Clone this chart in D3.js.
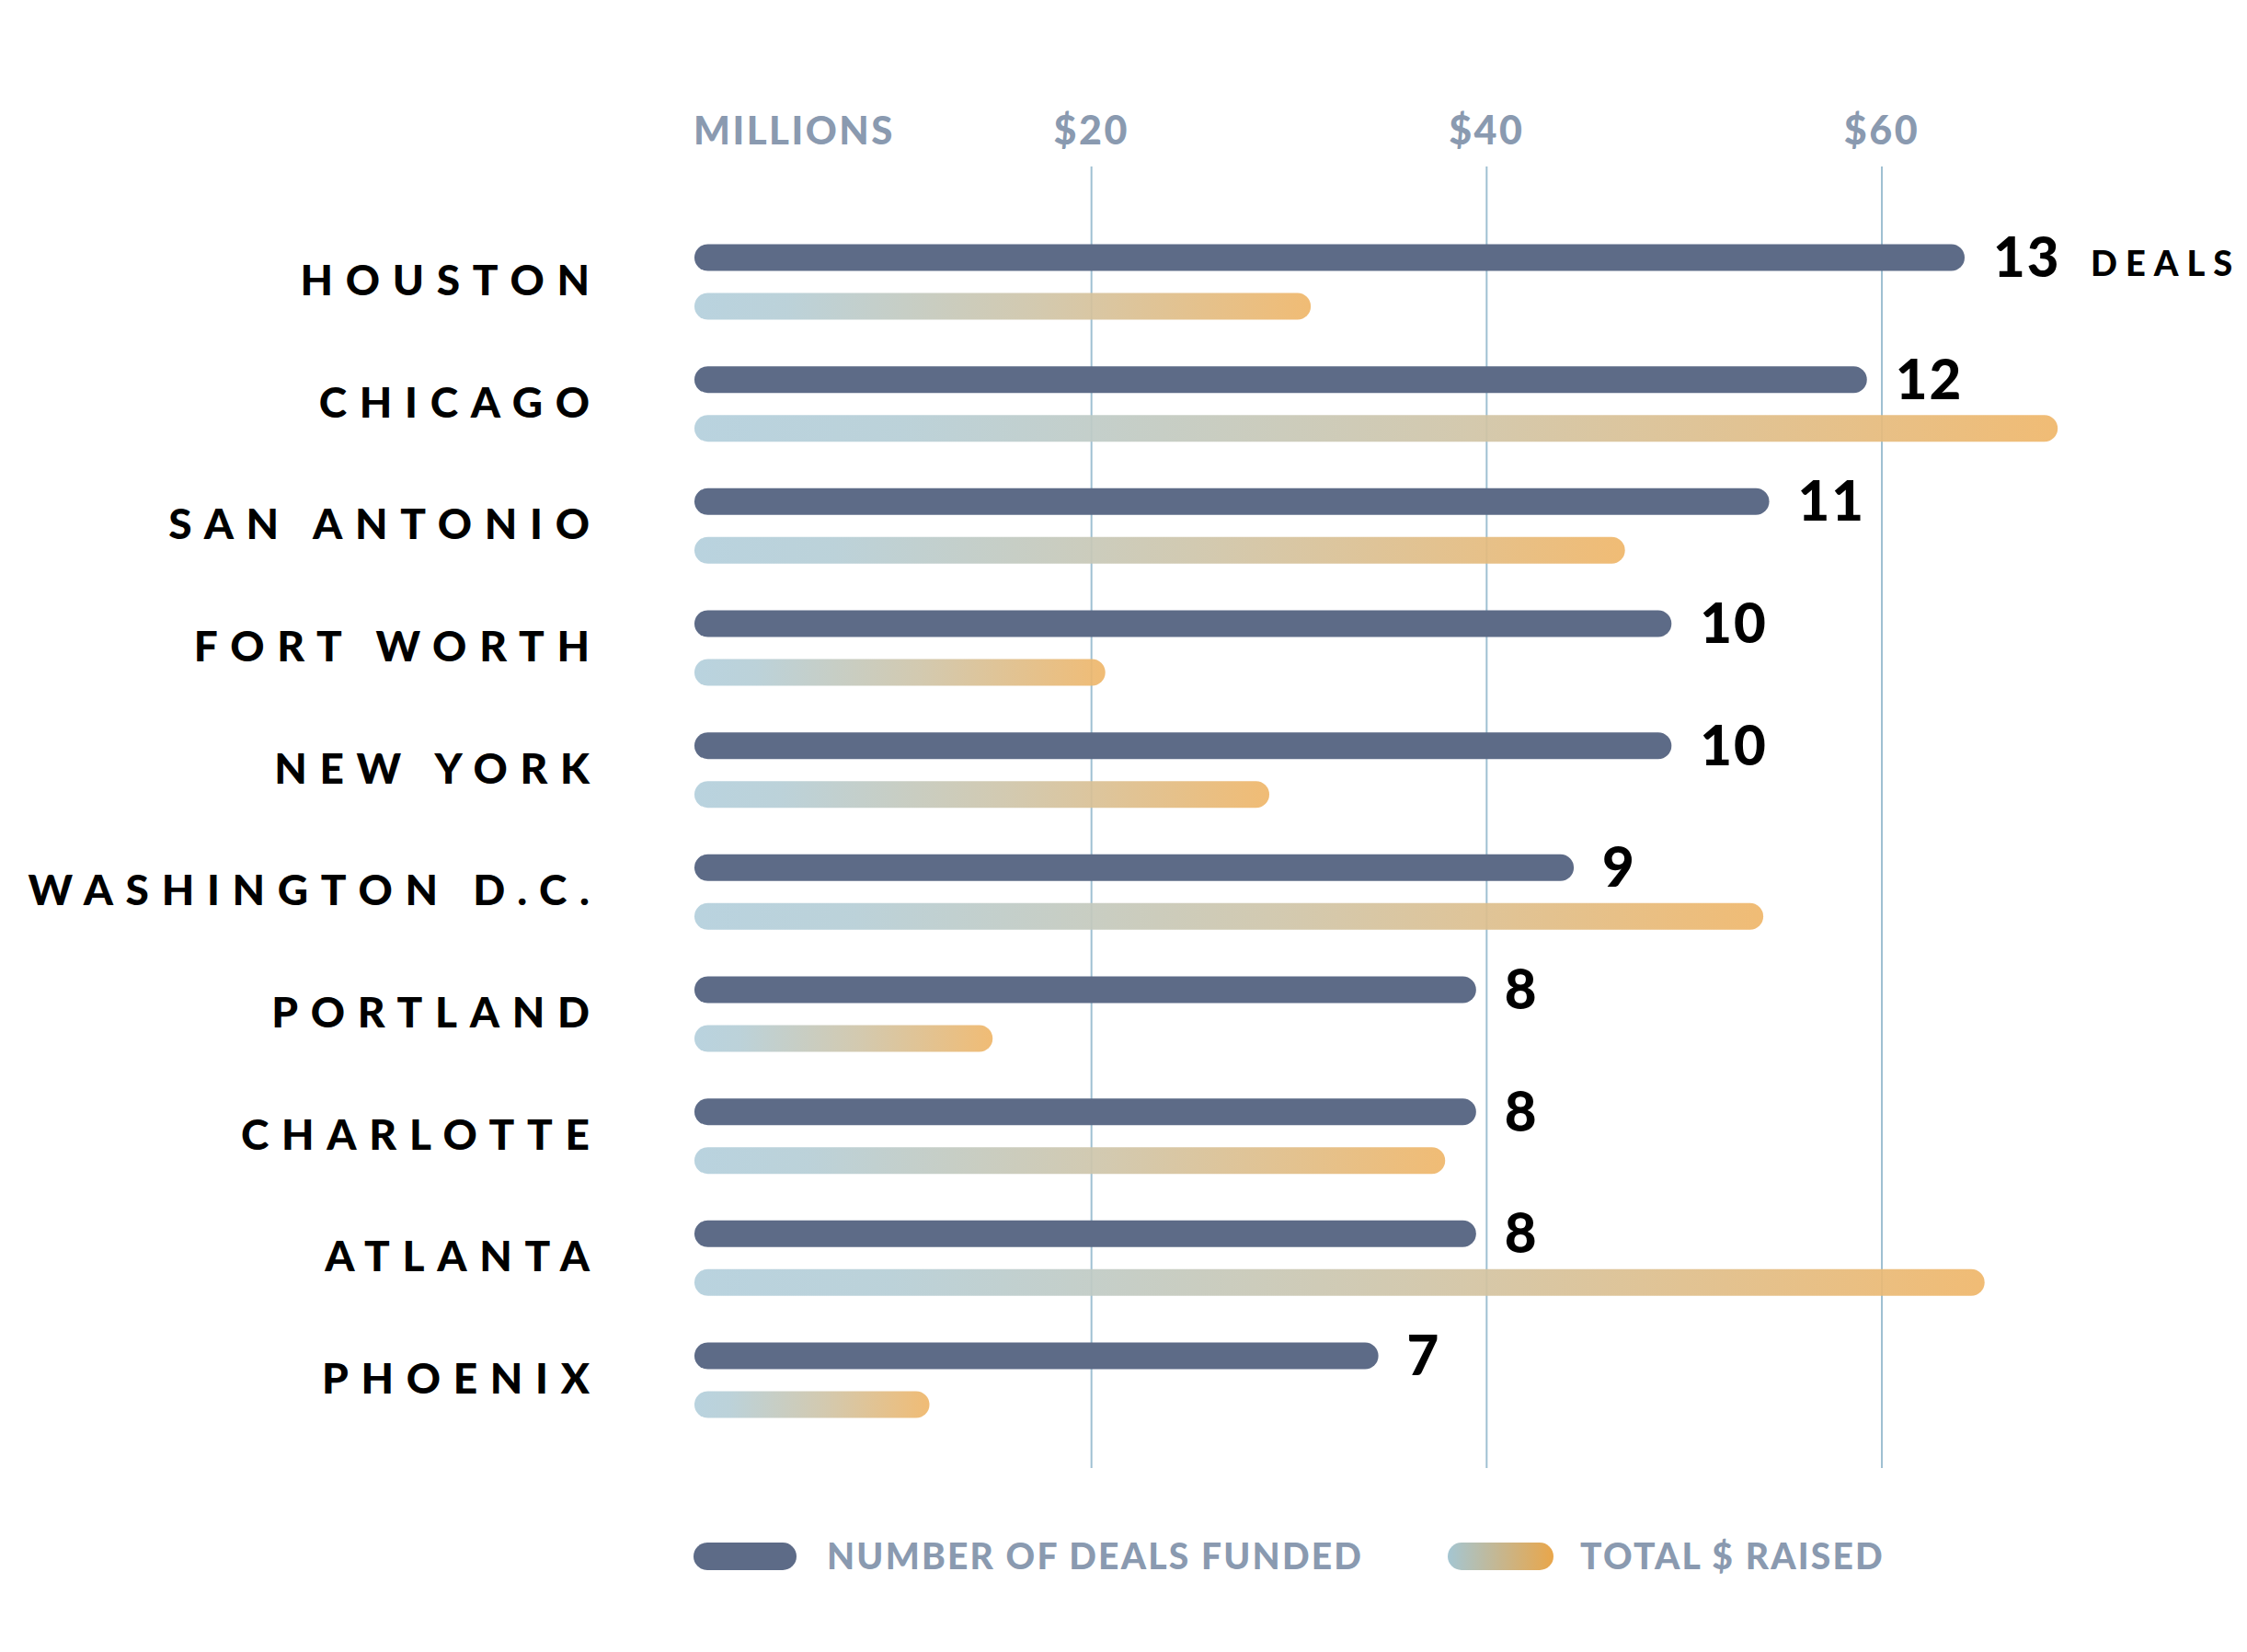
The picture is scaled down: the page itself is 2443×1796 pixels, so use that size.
<!DOCTYPE html>
<html>
<head>
<meta charset="utf-8">
<script src="https://cdn.jsdelivr.net/npm/d3@7"></script>
<style>
  body { margin: 0; background: #fff; }
  text { font-family: "Lato", "Open Sans", sans-serif; }
</style>
</head>
<body>
<script>

var width = 2443,
	height = 1796;

// data
var cities = ['HOUSTON', 'CHICAGO', 'SAN ANTONIO', 'FORT WORTH', 'NEW YORK',
	'WASHINGTON D.C.', 'PORTLAND', 'CHARLOTTE', 'ATLANTA', 'PHOENIX'];
var deals = [13, 12, 11, 10, 10, 9, 8, 8, 8, 7];
var raised = [31.1, 68.9, 47.0, 20.7, 29.0, 54.0, 15.0, 37.9, 65.2, 11.8];
var moneyTicks = [20, 40, 60];

var rows = cities.map(function(c, i){
	return {city: c, deals: deals[i], raised: raised[i]};
});

var svg = d3.select('body').append('svg')
	.attr('width', width)
	.attr('height', height);

var xDeals = d3.scaleLinear().domain([0, 13]).range([755, 2136]);
var xMoney = d3.scaleLinear().domain([0, 60]).range([757, 2046]);
var y = d3.scalePoint().domain(cities).range([280, 1474]);

var barH = 29,
	gap = 53;

var defs = svg.append('defs');
var grad = defs.append('linearGradient').attr('id', 'moneyGrad');
grad.append('stop').attr('offset', '0%').attr('stop-color', '#b3cfdc');
grad.append('stop').attr('offset', '15%').attr('stop-color', '#b6ced6');
grad.append('stop').attr('offset', '55%').attr('stop-color', '#cfc5a9');
grad.append('stop').attr('offset', '100%').attr('stop-color', '#efb669');

var legGrad = defs.append('linearGradient').attr('id', 'legGrad');
legGrad.append('stop').attr('offset', '0%').attr('stop-color', '#a4c6d2');
legGrad.append('stop').attr('offset', '100%').attr('stop-color', '#e9a64a');

// grid lines
svg.selectAll('.grid')
	.data(moneyTicks)
	.enter().append('line')
	.attr('x1', function(d){ return xMoney(d); })
	.attr('x2', function(d){ return xMoney(d); })
	.attr('y1', 181)
	.attr('y2', 1596)
	.attr('stroke', '#9fc0d2')
	.attr('stroke-width', 2);

// axis labels
svg.append('text')
	.attr('x', xMoney(0) - 3)
	.attr('y', 157)
	.attr('fill', '#8a9ab0')
	.attr('font-size', 42)
	.attr('font-weight', 900)
	.attr('letter-spacing', 2.5)
	.text('MILLIONS');

svg.selectAll('.tick')
	.data(moneyTicks)
	.enter().append('text')
	.attr('x', function(d){ return xMoney(d); })
	.attr('y', 157)
	.attr('text-anchor', 'middle')
	.attr('fill', '#8a9ab0')
	.attr('font-size', 43)
	.attr('font-weight', 900)
	.attr('letter-spacing', 2.5)
	.text(function(d){ return '$' + d; });

// deals bars
svg.selectAll('.deal')
	.data(rows)
	.enter().append('rect')
	.attr('x', xDeals(0))
	.attr('y', function(d){ return y(d.city) - barH/2; })
	.attr('width', function(d){ return xDeals(d.deals) - xDeals(0); })
	.attr('height', barH)
	.attr('rx', barH/2)
	.attr('fill', '#5d6b87');

// money bars
svg.selectAll('.money')
	.data(rows)
	.enter().append('rect')
	.attr('x', xMoney(0) - 2)
	.attr('y', function(d){ return y(d.city) + gap - barH/2; })
	.attr('width', function(d){ return xMoney(d.raised) - xMoney(0) + 2; })
	.attr('height', barH)
	.attr('rx', barH/2)
	.attr('fill', 'url(#moneyGrad)')
	.attr('opacity', 0.92);

// city labels
var ls = 13.7;
svg.selectAll('.city')
	.data(rows)
	.enter().append('text')
	.attr('x', 641 + ls)
	.attr('y', function(d){ return y(d.city) + 41; })
	.attr('text-anchor', 'end')
	.attr('font-size', 46)
	.attr('font-weight', 900)
	.attr('letter-spacing', ls)
	.attr('fill', '#000')
	.text(function(d){ return d.city; });

// value labels
svg.selectAll('.val')
	.data(rows)
	.enter().append('text')
	.attr('x', function(d){ return xDeals(d.deals) + 31; })
	.attr('y', function(d){ return y(d.city) + 21; })
	.attr('font-size', 60)
	.attr('font-weight', 900)
	.attr('letter-spacing', 2)
	.attr('fill', '#000')
	.text(function(d){ return d.deals; });

svg.append('text')
	.attr('x', 2273)
	.attr('y', 300)
	.attr('font-size', 38)
	.attr('font-weight', 900)
	.attr('letter-spacing', 9)
	.attr('fill', '#000')
	.text('DEALS');

// legend
var leg = svg.append('g');
leg.append('rect')
	.attr('x', 754).attr('y', 1677)
	.attr('width', 112).attr('height', 30)
	.attr('rx', 15)
	.attr('fill', '#5d6b87');
leg.append('text')
	.attr('x', 899).attr('y', 1706)
	.attr('font-size', 39)
	.attr('font-weight', 900)
	.attr('letter-spacing', 2.2)
	.attr('fill', '#8a9ab0')
	.text('NUMBER OF DEALS FUNDED');
leg.append('rect')
	.attr('x', 1574).attr('y', 1677)
	.attr('width', 115).attr('height', 30)
	.attr('rx', 15)
	.attr('fill', 'url(#legGrad)');
leg.append('text')
	.attr('x', 1718).attr('y', 1706)
	.attr('font-size', 39)
	.attr('font-weight', 900)
	.attr('letter-spacing', 2.2)
	.attr('fill', '#8a9ab0')
	.text('TOTAL $ RAISED');

</script>
</body>
</html>
